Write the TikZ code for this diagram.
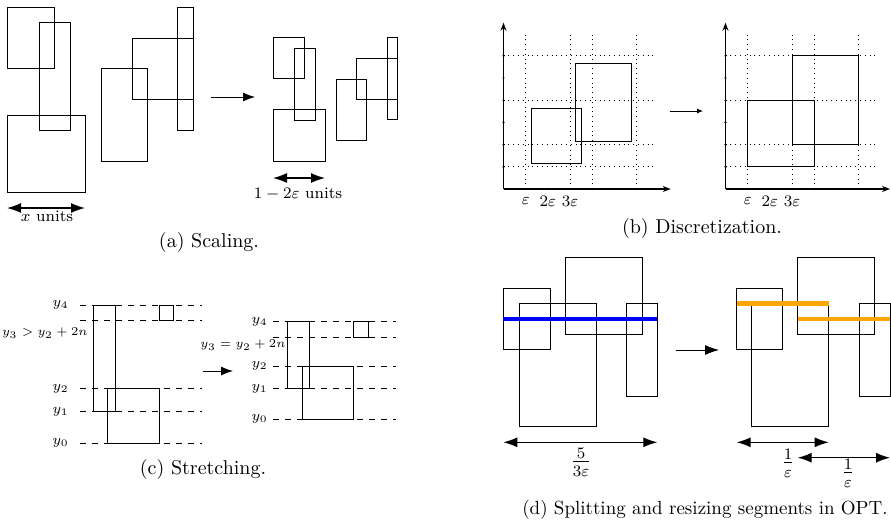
\documentclass[tikz,border=0pt]{standalone}
\usetikzlibrary{arrows.meta,fit}
\definecolor{segblue}{RGB}{0,0,255}
\definecolor{segorange}{RGB}{255,165,0}

\begin{document}
\begin{tikzpicture}[x=0.5pt, y=-0.5pt,
        box/.style={draw, rectangle, inner sep=0pt, outer sep=0pt},
        guide/.style={dashed},
        gridline/.style={dotted},
        axis/.style={semithick, -{Stealth[length=4pt, width=3pt]}},
        span/.style={semithick, {Latex[length=7pt, width=5pt]}-{Latex[length=7pt, width=5pt]}},
        move/.style={-{Latex[length=6pt, width=4.5pt]}},
        cut/.style={line width=2.2pt},
        lab/.style={font=\footnotesize, inner sep=1pt},
        level/.style={font=\scriptsize, inner sep=1pt},
        gap/.style={font=\fontsize{6.3}{7.5}\selectfont, inner sep=0pt},
        frac/.style={font=\large, inner sep=1pt},
        caption/.style={inner sep=0pt}]
    \useasboundingbox (0,0) rectangle (891,521);

    % (a) scaling
    \node [box, fit={(7,7) (54,68)}] (a1) {};
    \node [box, fit={(39,22) (70,130)}] (a2) {};
    \node [box, fit={(7,115) (85,192)}] (a3) {};
    \node [box, fit={(101,68) (147,161)}] (a4) {};
    \node [box, fit={(132,38) (193,99)}] (a5) {};
    \node [box, fit={(177,7) (193,130)}] (a6) {};
    \draw [span] ([yshift=-8pt]a3.south west) -- ([yshift=-8pt]a3.south east);
    \node [lab] (xunits) at (47,216) {$x$ units};

    \coordinate (amove1) at (211,97);
    \coordinate (amove2) at (255,97);
    \draw [move] (amove1) -- (amove2);

    \node [box, fit={(273,37) (304,78)}] (s1) {};
    \node [box, fit={(294,48) (315,120)}] (s2) {};
    \node [box, fit={(273,109) (325,161)}] (s3) {};
    \node [box, fit={(336,79) (366,140)}] (s4) {};
    \node [box, fit={(356,58) (397,99)}] (s5) {};
    \node [box, fit={(387,37) (397,119)}] (s6) {};
    \draw [span] ([yshift=-8.5pt]s3.south west) -- ([yshift=-8.5pt]s3.south east);
    \node [lab] (sunits) at (298,194) {$1-2\varepsilon$ units};

    \node [caption] (capa) at (209,242) {(a) Scaling.};

    % (b) discretization
    \begin{scope}[shift={(503.5,189)}, x=11.1pt, y=11.1pt]
        \foreach \k in {1,3,4,6}
            \draw [gridline] (\k,0) -- (\k,6.94);
        \foreach \k in {1,2,4,6}
            \draw [gridline] (0,\k) -- (6.9,\k);
        \draw [axis] (0,0) -- (7.53,0);
        \draw [axis] (0,0) -- (0,7.49);
        \foreach \k in {1,...,6} {
            \fill (\k,0) circle (0.6pt);
            \fill (0,\k) circle (0.6pt);
        }
        \draw (1.24,1.14) rectangle (3.5,3.63);
        \draw (3.25,2.13) rectangle (5.76,5.64);
        \node [lab] (be1) at (1,-0.55) {$\varepsilon$};
        \node [lab] (be2) at (2,-0.55) {$2\varepsilon$};
        \node [lab] (be3) at (3,-0.55) {$3\varepsilon$};
    \end{scope}

    \coordinate (bmove1) at (670,111);
    \coordinate (bmove2) at (703,111);
    \draw [-{Latex[length=3pt, width=2.5pt]}] (bmove1) -- (bmove2);

    \begin{scope}[shift={(725.5,189)}, x=11.1pt, y=11.1pt]
        \foreach \k in {1,3,4,6}
            \draw [gridline] (\k,0) -- (\k,6.94);
        \foreach \k in {1,2,4,6}
            \draw [gridline] (0,\k) -- (6.91,\k);
        \draw [axis] (0,0) -- (7.41,0);
        \draw [axis] (0,0) -- (0,7.49);
        \foreach \k in {1,...,6} {
            \fill (\k,0) circle (0.6pt);
            \fill (0,\k) circle (0.6pt);
        }
        \draw (1,1) rectangle (4,4);
        \draw (3,2) rectangle (6,6);
        \node [lab] (de1) at (1,-0.55) {$\varepsilon$};
        \node [lab] (de2) at (2,-0.55) {$2\varepsilon$};
        \node [lab] (de3) at (3,-0.55) {$3\varepsilon$};
    \end{scope}

    \node [caption] (capb) at (702,228) {(b) Discretization.};

    % (c) stretching
    \foreach \y in {305.3,320.7,388.7,411.7,443.3}
        \draw [guide] (80,\y) -- (201.7,\y);
    \foreach \y/\i in {305.3/4,388.7/2,411.7/1,443.3/0}
        \node [level, anchor=east] (cl\i) at (71,\y) {$y_\i$};
    \node [gap, anchor=east] (cl3) at (88,333) {$y_3 > y_2 + 2n$};
    \node [box, fit={(93.3,305.3) (115.3,411.7)}] (c1) {};
    \node [box, fit={(159,305.3) (173.7,320.7)}] (c2) {};
    \node [box, fit={(107.3,388.7) (159,443.3)}] (c3) {};

    \coordinate (cmove1) at (203,371);
    \coordinate (cmove2) at (233,371);
    \draw [move] (cmove1) -- (cmove2);

    \foreach \y in {321.7,337,366,388.7,419.3}
        \draw [guide] (273.3,\y) -- (396,\y);
    \foreach \y/\i in {321.7/4,366/2,388.7/1,419.3/0}
        \node [level, anchor=east] (cr\i) at (270,\y) {$y_\i$};
    \node [gap] (cr3) at (243,345) {$y_3 = y_2 + 2n$};
    \node [box, fit={(287.7,321.7) (309.3,388.7)}] (t1) {};
    \node [box, fit={(353.7,321.7) (368.3,337)}] (t2) {};
    \node [box, fit={(302.7,366) (353.3,419.3)}] (t3) {};

    \node [caption] (capc) at (203,469) {(c) Stretching.};

    % (d) splitting and resizing
    \node [box, fit={(503.3,288.3) (550,349.7)}] (d1) {};
    \node [box, fit={(519,303.3) (596,426.7)}] (d2) {};
    \node [box, fit={(565.3,257.3) (642.3,334.3)}] (d3) {};
    \node [box, fit={(626.7,303.3) (657.3,396)}] (d4) {};
    \coordinate (dcut) at (0,319);
    \draw [cut, segblue] (d1.west |- dcut) -- (d4.east |- dcut);
    \coordinate (dspan) at (0,442.3);
    \draw [span] (d1.west |- dspan) -- (d4.east |- dspan);
    \node [frac] (dfrac) at (581,462) {$\frac{5}{3\varepsilon}$};

    \coordinate (dmove1) at (676,350);
    \coordinate (dmove2) at (719,350);
    \draw [-{Latex[length=7pt, width=5pt]}] (dmove1) -- (dmove2);

    \node [box, fit={(736.7,288.3) (782.7,349.7)}] (e1) {};
    \node [box, fit={(751.7,303.3) (828.7,426.7)}] (e2) {};
    \node [box, fit={(797.7,257.3) (874.7,334.3)}] (e3) {};
    \node [box, fit={(859.3,303.3) (890,396)}] (e4) {};
    \draw [cut, segorange] (e1.west |- e2.north) -- (e2.north east);
    \draw [cut, segorange] (e3.west |- dcut) -- (e4.east |- dcut);
    \draw [span] (e1.west |- dspan) -- (e2.east |- dspan);
    \coordinate (espan) at (0,457.7);
    \draw [span] (e3.west |- espan) -- (e4.east |- espan);
    \node [frac] (efrac1) at (788,463) {$\frac{1}{\varepsilon}$};
    \node [frac] (efrac2) at (848,473) {$\frac{1}{\varepsilon}$};

    \node [caption, font=\fontsize{9.5}{11}\selectfont] (capd) at (705,510) {(d) Splitting and resizing segments in OPT.};
\end{tikzpicture}
\end{document}
